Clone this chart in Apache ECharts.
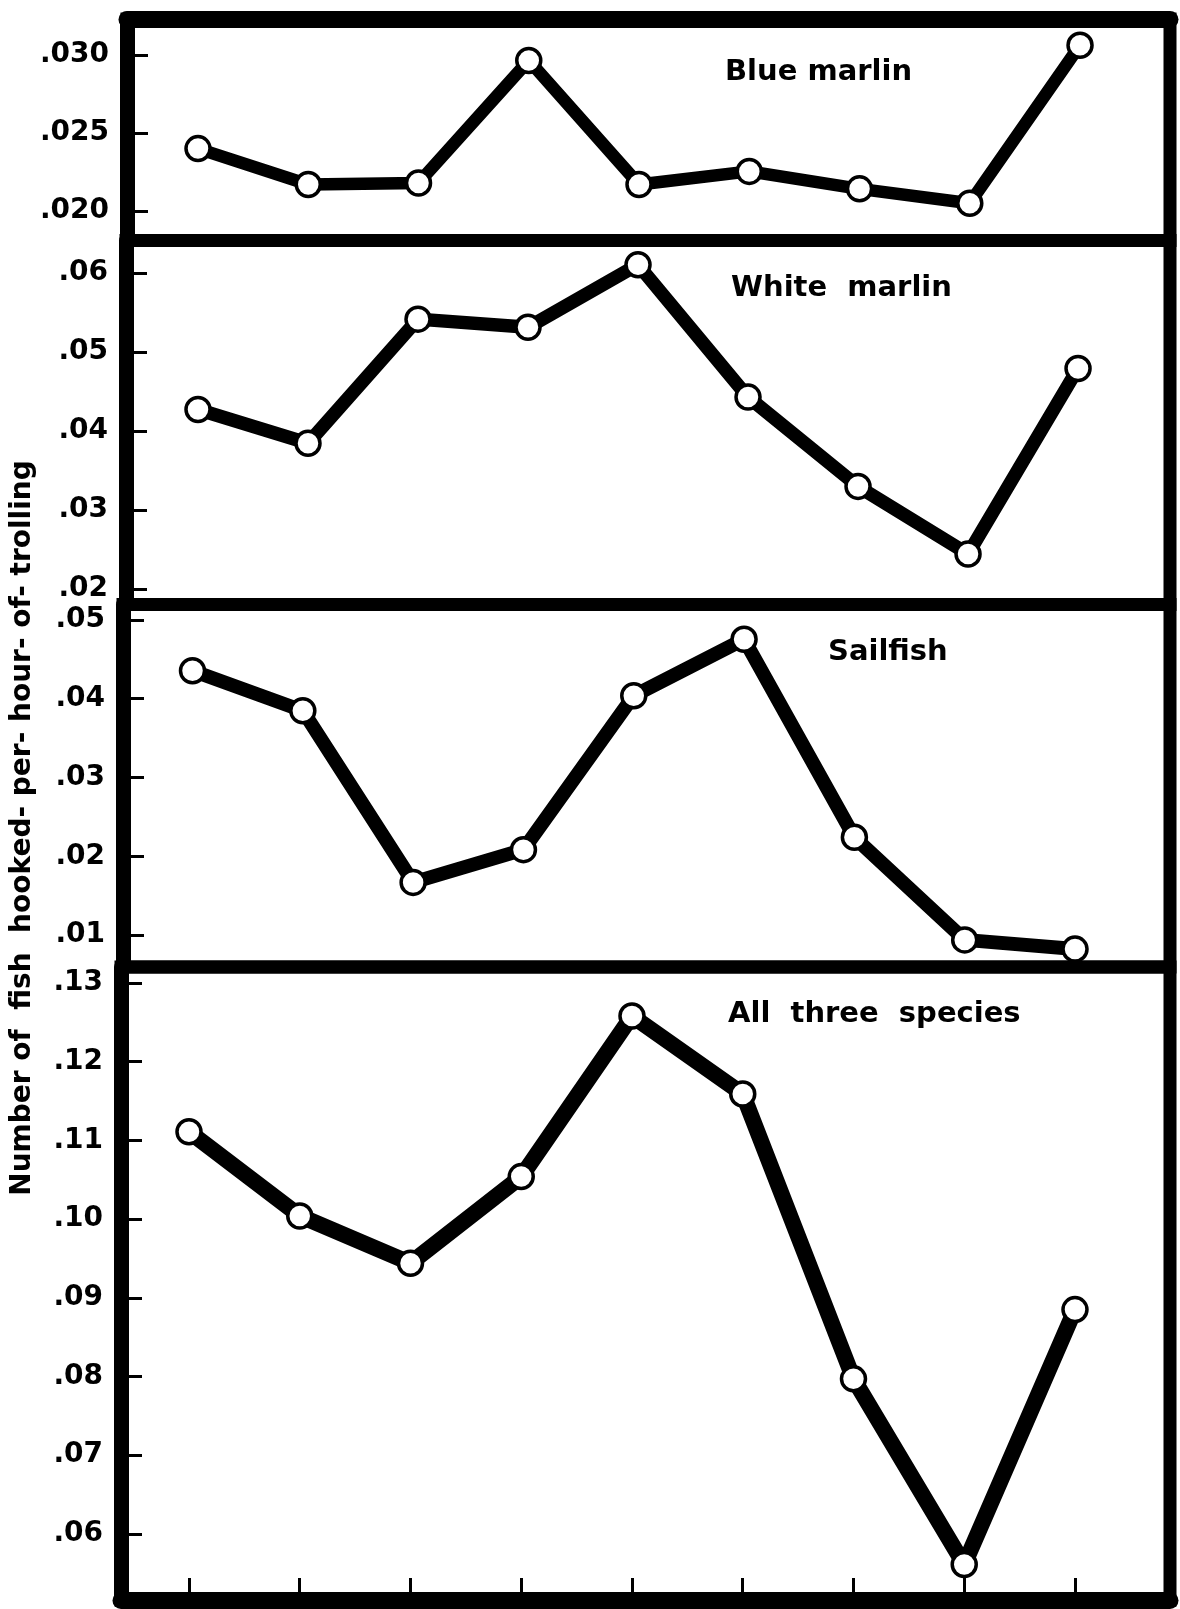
<!DOCTYPE html>
<html>
<head>
<meta charset="utf-8">
<script src="https://cdn.jsdelivr.net/npm/echarts@6/dist/echarts.min.js"></script>
<style>
  html, body { margin: 0; padding: 0; background: #fff; }
  #chart { width: 1180px; height: 1609px; }
</style>
</head>
<body>
<div id="chart"></div>
<script>
// Trolling periods (unlabelled on the chart, one tick each)
const periods = [1, 2, 3, 4, 5, 6, 7, 8, 9];

// Catch rates: number of fish hooked per hour of trolling
const blueMarlin  = [0.0240, 0.0217, 0.0218, 0.02965, 0.0217, 0.02254, 0.02142, 0.0205, 0.03063];
const whiteMarlin = [0.04273, 0.03844, 0.05416, 0.05313, 0.06105, 0.04429, 0.03299, 0.02442, 0.04792];
const sailfish    = [0.04356, 0.03848, 0.01668, 0.02084, 0.04039, 0.04755, 0.02241, 0.00938, 0.00821];
const allThree    = [0.1111, 0.1004, 0.0944, 0.1054, 0.1258, 0.1159, 0.0797, 0.0561, 0.0885];

// Tick values on each panel's vertical axis
const blueTicks  = [0.020, 0.025, 0.030];
const whiteTicks = [0.02, 0.03, 0.04, 0.05, 0.06];
const sailTicks  = [0.01, 0.02, 0.03, 0.04, 0.05];
const allTicks   = [0.06, 0.07, 0.08, 0.09, 0.10, 0.11, 0.12, 0.13];

const panelNames = ['Blue marlin', 'White  marlin', 'Sailfish', 'All  three  species'];
const yTitle = 'Number of  fish  hooked- per- hour- of- trolling';

const FONT = '"DejaVu Sans", "Noto Sans", sans-serif';
const W = 1180, H = 1609;

// Panel frames (pixels): left edge, top edge, bottom edge, plus stroke weight of each curve
const panels = [
  { left: 127, top: 19,    bottom: 240.5, ymin: 0.018109, ymax: 0.032308, xmin: -0.644, xmax: 8.816, ticks: blueTicks,  digits: 3, values: blueMarlin,  lw: 12.5, title: { x: 725, y: 72 } },
  { left: 126, top: 240.5, bottom: 604.5, ymin: 0.018038, ymax: 0.064114, xmin: -0.6545, xmax: 8.836, ticks: whiteTicks, digits: 2, values: whiteMarlin, lw: 13.5, title: { x: 731, y: 288 } },
  { left: 123, top: 604.5, bottom: 967,   ymin: 0.005937, ymax: 0.051968, xmin: -0.630, xmax: 8.861, ticks: sailTicks,  digits: 2, values: sailfish,    lw: 14, title: { x: 828, y: 652 } },
  { left: 121, top: 967,   bottom: 1600,  ymin: 0.051601, ymax: 0.132033, xmin: -0.614, xmax: 8.858, ticks: allTicks,   digits: 2, values: allThree,    lw: 16, title: { x: 728, y: 1014 } }
];
const RIGHT_EDGE = 1170;

const grids = [], xAxes = [], yAxes = [], series = [], graphics = [];

panels.forEach((p, k) => {
  grids.push({
    left: p.left, top: p.top,
    width: RIGHT_EDGE - p.left, height: p.bottom - p.top,
    show: true, borderColor: '#000', borderWidth: 13, backgroundColor: 'transparent'
  });

  const isLast = k === panels.length - 1;
  xAxes.push({
    type: 'value', gridIndex: k, min: p.xmin, max: p.xmax, position: 'bottom',
    show: isLast,
    axisLine: { show: true, onZero: false, lineStyle: { color: '#000', width: 17 } },
    axisTick: { show: true, inside: true, length: 22, lineStyle: { color: '#000', width: 3 },
                customValues: periods.map((_, i) => i) },
    axisLabel: { show: false },
    splitLine: { show: false }
  });

  yAxes.push({
    type: 'value', gridIndex: k, min: p.ymin, max: p.ymax, position: 'left',
    axisLine: { show: true, onZero: false, lineStyle: { color: '#000', width: 15 } },
    axisTick: { show: true, inside: true, length: 21, lineStyle: { color: '#000', width: 3 },
                customValues: p.ticks },
    axisLabel: {
      show: true, customValues: p.ticks, margin: 18,
      formatter: v => v.toFixed(p.digits).replace(/^0/, ''),
      fontSize: 28, fontWeight: 'bold', fontFamily: FONT, color: '#000'
    },
    splitLine: { show: false }
  });

  series.push({
    type: 'line', xAxisIndex: k, yAxisIndex: k,
    data: p.values.map((v, i) => [i, v]),
    symbol: 'circle', symbolSize: 24,
    lineStyle: { color: '#000', width: p.lw, cap: 'round', join: 'round' },
    itemStyle: { color: '#fff', borderColor: '#000', borderWidth: 3.5 },
    emphasis: { disabled: true },
    silent: true, animation: false, z: 3
  });

  graphics.push({
    type: 'text', x: p.title.x, y: p.title.y, z: 10,
    style: { text: panelNames[k], font: 'bold 29px ' + FONT, fill: '#000',
             textAlign: 'left', textVerticalAlign: 'middle' }
  });
});

// Heavy top rule of the first panel
xAxes.push({
  type: 'value', gridIndex: 0, position: 'top', min: 0, max: 1,
  axisLine: { show: true, onZero: false, lineStyle: { color: '#000', width: 17 } },
  axisTick: { show: false }, axisLabel: { show: false }, splitLine: { show: false }
});

// Shared vertical axis title
graphics.push({
  type: 'text', x: 23, y: 828, rotation: Math.PI / 2, z: 10,
  style: { text: yTitle, font: 'bold 28px ' + FONT, fill: '#000',
           textAlign: 'center', textVerticalAlign: 'middle' }
});

const chart = echarts.init(document.getElementById('chart'), null, { renderer: 'canvas', width: W, height: H });
chart.setOption({
  animation: false,
  backgroundColor: '#fff',
  grid: grids,
  xAxis: xAxes,
  yAxis: yAxes,
  series: series,
  graphic: graphics
});
</script>
</body>
</html>
